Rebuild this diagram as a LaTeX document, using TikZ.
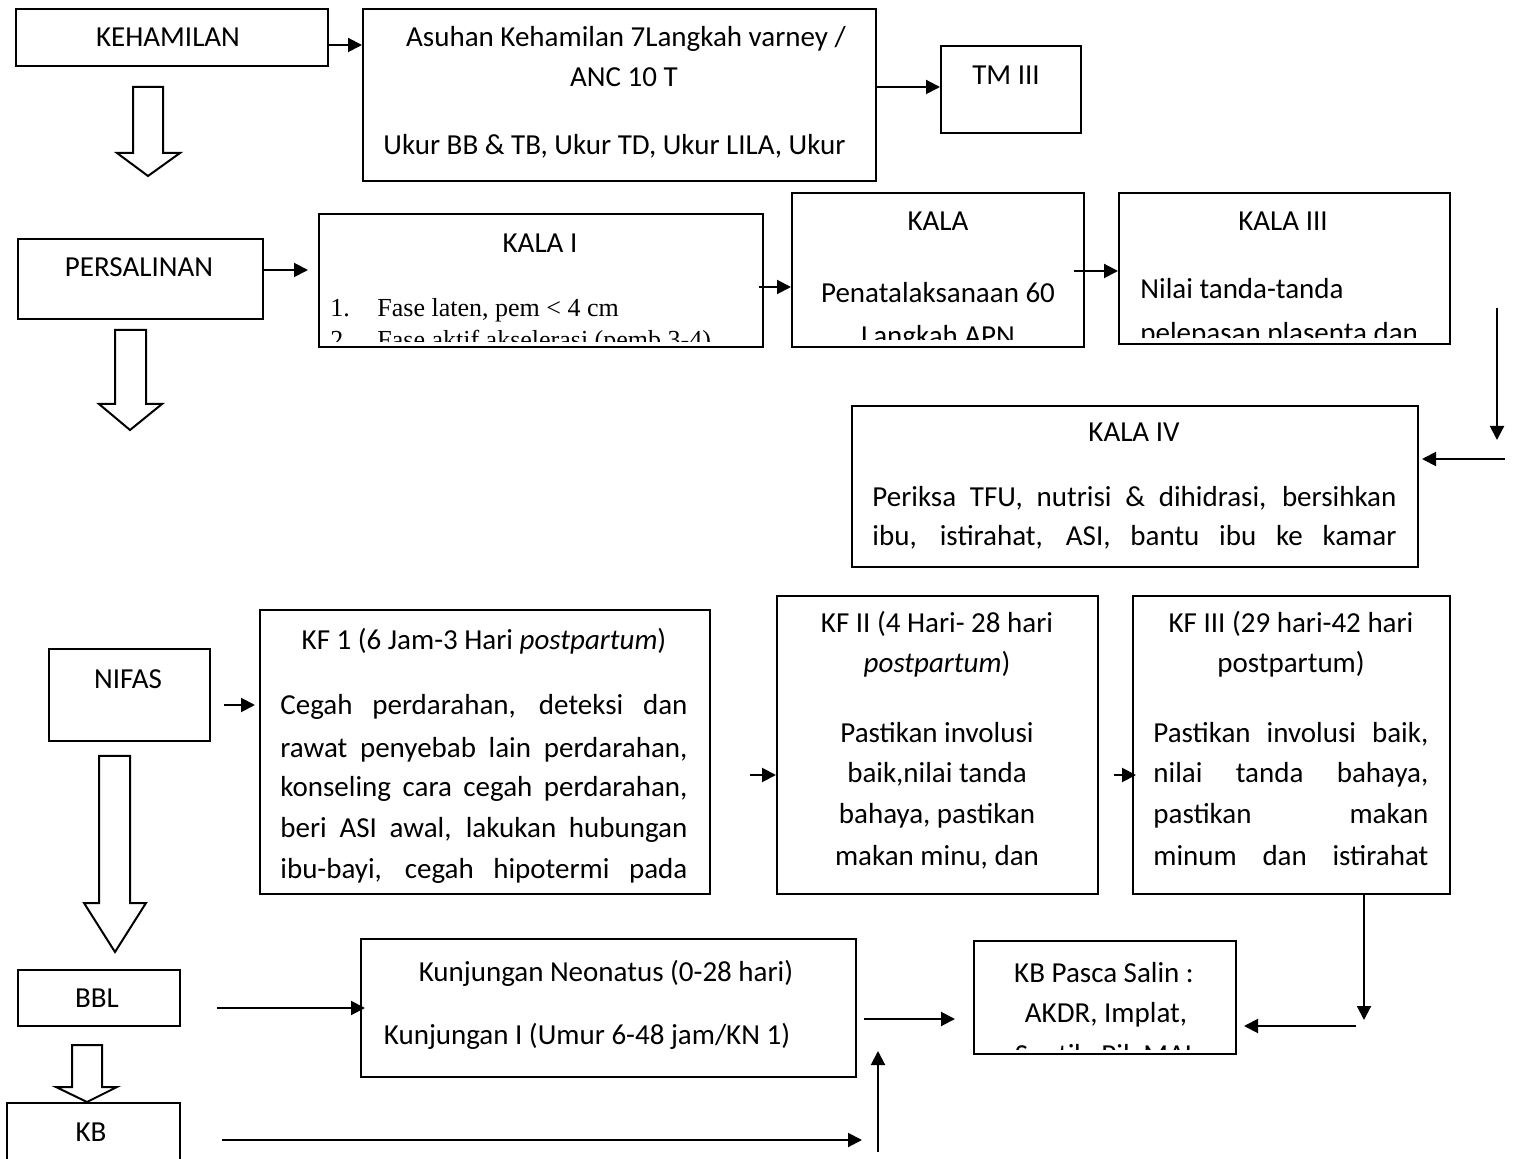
\documentclass[tikz,border=0pt]{standalone}
\usepackage{fontspec}
\setmainfont{Carlito}
\newfontfamily\timesf{Liberation Serif}
\usetikzlibrary{arrows.meta,calc}
\tikzset{
  boxst/.style={draw, line width=1pt, inner sep=0pt},
  txt/.style={inner sep=0pt, font=\fontsize{14.5}{19}\selectfont},
  ttxt/.style={inner sep=0pt, font=\timesf\fontsize{13}{16}\selectfont},
  conn/.style={line width=1pt, -{Triangle[length=7pt,width=7pt]}},
  hollow/.style={draw, line width=1pt, fill=white, line join=miter},
}
\newcommand\mkbox[5]{\node[boxst,anchor=north west,minimum width={(#4-#2)*0.5pt},minimum height={(#5-#3)*0.5pt}] (#1) at (#2,#3) {};}
\begin{document}
\begin{tikzpicture}[x=0.5pt,y=-0.5pt]
\useasboundingbox (0,0) rectangle (1515,1159);
\clip (0,0) rectangle (1515,1159);

% boxes
\mkbox{keh}{15}{8}{327}{65}
\mkbox{asuh}{362}{8}{875}{180}
\mkbox{tm}{940}{45}{1080}{132}
\mkbox{pers}{17}{238}{262}{318}
\mkbox{kala1}{318}{213}{762}{346}
\mkbox{kala2}{791}{192}{1083}{346}
\mkbox{kala3}{1118}{192}{1449}{343}
\mkbox{kala4}{851}{405}{1417}{566}
\mkbox{nifas}{48}{648}{209}{740}
\mkbox{kf1}{259}{609}{709}{893}
\mkbox{kf2}{776}{595}{1097}{893}
\mkbox{kf3}{1132}{595}{1449}{893}
\mkbox{bbl}{17}{969}{179}{1025}
\mkbox{kunj}{360}{938}{855}{1076}
\mkbox{kbp}{973}{940}{1235}{1053}
\mkbox{kb}{6}{1102}{179}{1175}

% texts
\node[txt,anchor=base] (tkeh) at (168,47) {KEHAMILAN};
\node[txt,anchor=base] (tas1) at (626,47) {Asuhan Kehamilan 7Langkah varney /};
\node[txt,anchor=base] (tas2) at (624,87) {ANC 10 T};
\node[txt,anchor=base west] (tas3) at (383,155) {Ukur BB \& TB, Ukur TD, Ukur LILA, Ukur};
\node[txt,anchor=base] (ttm) at (1006,85) {TM III};
\node[txt,anchor=base] (tpers) at (139,277) {PERSALINAN};

\node[txt,anchor=base] (tk1) at (540,253) {KALA I};
\begin{scope}
\clip (318,213) rectangle (762,342);
\node[ttxt,anchor=base west] (tk1a) at (330,317) {1.};
\node[ttxt,anchor=base west] (tk1b) at (377,317) {Fase laten, pem < 4 cm};
\node[ttxt,anchor=base west] (tk1c) at (330,349) {2.};
\node[ttxt,anchor=base west] (tk1d) at (377,349) {Fase aktif akselerasi (pemb 3-4)};
\end{scope}

\node[txt,anchor=base] (tk2) at (938,231) {KALA};
\begin{scope}
\clip (791,192) rectangle (1083,340);
\node[txt,anchor=base] (tk2a) at (938,303) {Penatalaksanaan 60};
\node[txt,anchor=base] (tk2b) at (938,346) {Langkah APN};
\end{scope}

\node[txt,anchor=base] (tk3) at (1283,231) {KALA III};
\begin{scope}
\clip (1118,192) rectangle (1449,338);
\node[txt,anchor=base west] (tk3a) at (1140,299) {Nilai tanda-tanda};
\node[txt,anchor=base west] (tk3b) at (1140,343) {pelepasan plasenta dan};
\end{scope}

\node[txt,anchor=base] (tk4) at (1134,442) {KALA IV};
\node[txt,anchor=base west] (tk4a) at (872,507) {\makebox[262pt][s]{Periksa TFU, nutrisi \& dihidrasi, bersihkan}};
\node[txt,anchor=base west] (tk4b) at (872,546) {\makebox[262pt][s]{ibu, istirahat, ASI, bantu ibu ke kamar}};

\node[txt,anchor=base] (tnif) at (128,689) {NIFAS};

\node[txt,anchor=base] (tf1) at (484,650) {KF 1 (6 Jam-3 Hari \textit{postpartum})};
\begin{scope}
\clip (259,609) rectangle (709,882);
\node[txt,anchor=base west] (tf1a) at (280,715) {\makebox[203.5pt][s]{Cegah perdarahan, deteksi dan}};
\node[txt,anchor=base west] (tf1b) at (280,757) {\makebox[203.5pt][s]{rawat penyebab lain perdarahan,}};
\node[txt,anchor=base west] (tf1c) at (280,797) {\makebox[203.5pt][s]{konseling cara cegah perdarahan,}};
\node[txt,anchor=base west] (tf1d) at (280,837) {\makebox[203.5pt][s]{beri ASI awal, lakukan hubungan}};
\node[txt,anchor=base west] (tf1e) at (280,878) {\makebox[203.5pt][s]{ibu-bayi, cegah hipotermi pada}};
\end{scope}

\node[txt,anchor=base] (tf2a) at (937,633) {KF II (4 Hari- 28 hari};
\node[txt,anchor=base] (tf2b) at (937,673) {\textit{postpartum})};
\node[txt,anchor=base] (tf2c) at (937,742) {Pastikan involusi};
\node[txt,anchor=base] (tf2d) at (937,783) {baik,nilai tanda};
\node[txt,anchor=base] (tf2e) at (937,823) {bahaya, pastikan};
\node[txt,anchor=base] (tf2f) at (937,865) {makan minu, dan};

\node[txt,anchor=base] (tf3a) at (1291,633) {KF III (29 hari-42 hari};
\node[txt,anchor=base] (tf3b) at (1291,673) {postpartum)};
\node[txt,anchor=base west] (tf3c) at (1153,742) {\makebox[137.5pt][s]{Pastikan involusi baik,}};
\node[txt,anchor=base west] (tf3d) at (1153,783) {\makebox[137.5pt][s]{nilai tanda bahaya,}};
\node[txt,anchor=base west] (tf3e) at (1153,823) {\makebox[137.5pt][s]{pastikan makan}};
\node[txt,anchor=base west] (tf3f) at (1153,865) {\makebox[137.5pt][s]{minum dan istirahat}};

\node[txt,anchor=base] (tbbl) at (97,1007) {BBL};
\node[txt,anchor=base] (tkb) at (91,1141) {KB};

\node[txt,anchor=base] (tkn1) at (606,981) {Kunjungan Neonatus (0-28 hari)};
\node[txt,anchor=base] (tkn2) at (587,1044) {Kunjungan I (Umur 6-48 jam/KN 1)};

\node[txt,anchor=base] (tkp1) at (1104,982) {KB Pasca Salin :};
\begin{scope}
\clip (973,940) rectangle (1235,1049);
\node[txt,anchor=base] (tkp2) at (1106,1022) {AKDR, Implat,};
\node[txt,anchor=base] (tkp3) at (1106,1064) {Suntik, Pil, MAL};
\end{scope}

% hollow block arrows
\draw[hollow] (133,87) -- (163,87) -- (163,153) -- (180,153) -- (148,176) -- (117,153) -- (133,153) -- cycle;
\draw[hollow] (115,330) -- (146,330) -- (146,404) -- (162,404) -- (130,430) -- (99,404) -- (115,404) -- cycle;
\draw[hollow] (99,756) -- (130,756) -- (130,903) -- (146,903) -- (115,952) -- (84,903) -- (99,903) -- cycle;
\draw[hollow] (72,1045) -- (102,1045) -- (102,1087) -- (117,1087) -- (87,1102) -- (56,1087) -- (72,1087) -- cycle;

% connectors
\draw[conn] (keh.east |- 0,45) -- (asuh.west |- 0,45);
\draw[conn] (asuh.east |- 0,87) -- (tm.west |- 0,87);
\draw[conn, shorten >=5pt] (pers.east |- 0,270) -- (kala1.west |- 0,270);
\draw[conn, shorten <=-2.5pt] (kala1.east |- 0,287) -- (kala2.west |- 0,287);
\draw[conn, shorten <=-5.5pt] (kala2.east |- 0,271) -- (kala3.west |- 0,271);
\coordinate (d1) at (1497,308);
\coordinate (d2) at (1497,440);
\draw[conn] (d1) -- (d2);
\coordinate (d3) at (1505,459);
\draw[conn, shorten >=1.5pt] (d3) -- (kala4.east |- d3);
\draw[conn, shorten <=6.5pt, shorten >=2pt] (nifas.east |- 0,705) -- (kf1.west |- 0,705);
\draw[conn, shorten <=19.5pt] (kf1.east |- 0,775) -- (kf2.west |- 0,775);
\draw[conn, shorten <=7.5pt, shorten >=-2pt] (kf2.east |- 0,775) -- (kf3.west |- 0,775);
\coordinate (d4) at (1364,1020);
\draw[conn] (d4 |- kf3.south) -- (d4);
\coordinate (d5) at (1356,1026);
\draw[conn, shorten >=3.5pt] (d5) -- (kbp.east |- d5);
\draw[conn, shorten <=18pt, shorten >=-2.5pt] (bbl.east |- 0,1008) -- (kunj.west |- 0,1008);
\draw[conn, shorten <=3.5pt, shorten >=9pt] (kunj.east |- 0,1019) -- (kbp.west |- 0,1019);
\coordinate (d6) at (862,1140);
\draw[conn, shorten <=20.5pt] (kb.east |- d6) -- (d6);
\coordinate (d7) at (878,1152);
\coordinate (d8) at (878,1051);
\draw[conn] (d7) -- (d8);
\end{tikzpicture}
\end{document}
